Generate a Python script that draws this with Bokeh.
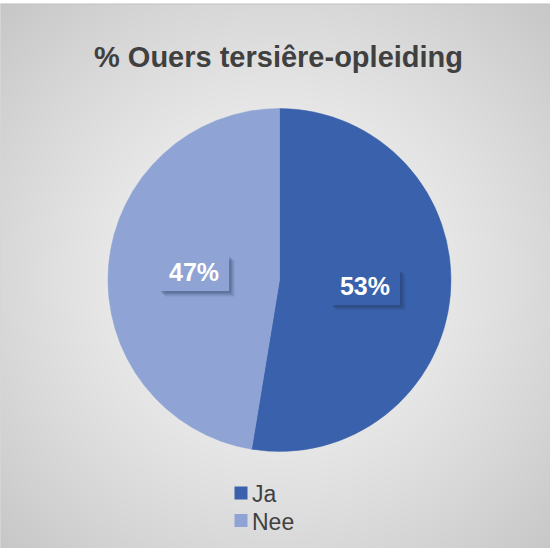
import numpy as np
from bokeh.plotting import figure
from bokeh.models import Range1d, Span
from bokeh.core.properties import value
from bokeh.embed import file_html
from bokeh.resources import INLINE

# ---- data ----
title = "% Ouers tersiêre-opleiding"
categories = ["Ja", "Nee"]
shares = [52.6, 47.4]
labels = ["53%", "47%"]
colors = ["#3A62AC", "#8FA4D4"]

# ---- layout constants (pixels) ----
W, H = 550, 548
TOP = 3
FH = H - TOP  # frame height
cx, cy, r = 279.0, 268.5, 171.5

p = figure(width=W, height=H, output_backend="svg", toolbar_location=None,
           x_range=Range1d(0, W), y_range=Range1d(0, FH),
           min_border_left=0, min_border_right=0, min_border_bottom=0,
           min_border_top=TOP)
p.axis.visible = False
p.grid.visible = False
p.outline_line_color = None
p.border_fill_color = "white"
p.background_fill_color = "#e0e0e0"

# radial gradient background
yy, xx = np.mgrid[0:FH, 0:W]
d = np.sqrt((xx - 276.0) ** 2 + (yy - 270.0) ** 2)
t = np.clip(d / 400.0, 0, 1)
g = (247 - 50 * t ** 1.3).astype(np.uint32)
img = (255 << 24) | (g << 16) | (g << 8) | g
p.image_rgba(image=[img.astype(np.uint32)], x=0, y=0, dw=W, dh=FH)

p.add_layout(Span(location=0, dimension="height", line_color="#c4c4c4", line_width=1))
p.add_layout(Span(location=FH - 0.5, dimension="width", line_color="#c4c4c4", line_width=1))

# wedges: clockwise from top
total = float(sum(shares))
fr = np.array(shares) / total
cum = np.concatenate([[0], np.cumsum(fr)])
starts = np.pi / 2 - cum[1:] * 2 * np.pi
ends = np.pi / 2 - cum[:-1] * 2 * np.pi
p.wedge(x=cx, y=cy, radius=r, start_angle=starts, end_angle=ends,
        fill_color=colors, line_color=colors, line_width=0.5)

# labels
mids = (starts + ends) / 2
lx = cx + 0.5 * r * np.cos(mids)
ly = cy + 0.5 * r * np.sin(mids)
bw, bh = 70, 36
for k, a in [(6, 0.05), (5, 0.07), (4, 0.09), (3, 0.11), (2, 0.12)]:
    p.rect(x=lx + k, y=ly - k, width=bw, height=bh, width_units="screen",
           height_units="screen", fill_color="#1c2a4a", fill_alpha=a, line_color=None)
p.rect(x=lx, y=ly, width=bw, height=bh, width_units="screen", height_units="screen",
       fill_color=colors, line_color=None)
p.text(x=lx, y=ly, text=labels, text_align="center", text_baseline="middle",
       text_color="white", text_font=value("Liberation Sans"),
       text_font_style="bold", text_font_size="25px", y_offset=-1)

# title
p.text(x=[278], y=[FH - 53], text=[title], text_align="center",
       text_baseline="middle", text_color="#404040",
       text_font=value("Liberation Sans"), text_font_style="bold",
       text_font_size="29px")

# legend
lgx = 240.5
lgy = [FH - 489.5, FH - 517.0]
p.scatter(x=[lgx] * len(categories), y=lgy, marker="square", size=13,
          fill_color=colors, line_color=None)
p.text(x=[lgx + 11] * len(categories), y=lgy, text=categories, text_align="left",
       text_baseline="middle", text_color="#404040",
       text_font=value("Liberation Sans"), text_font_size="23px", y_offset=1)

open("out.html", "w").write(file_html(p, INLINE))
